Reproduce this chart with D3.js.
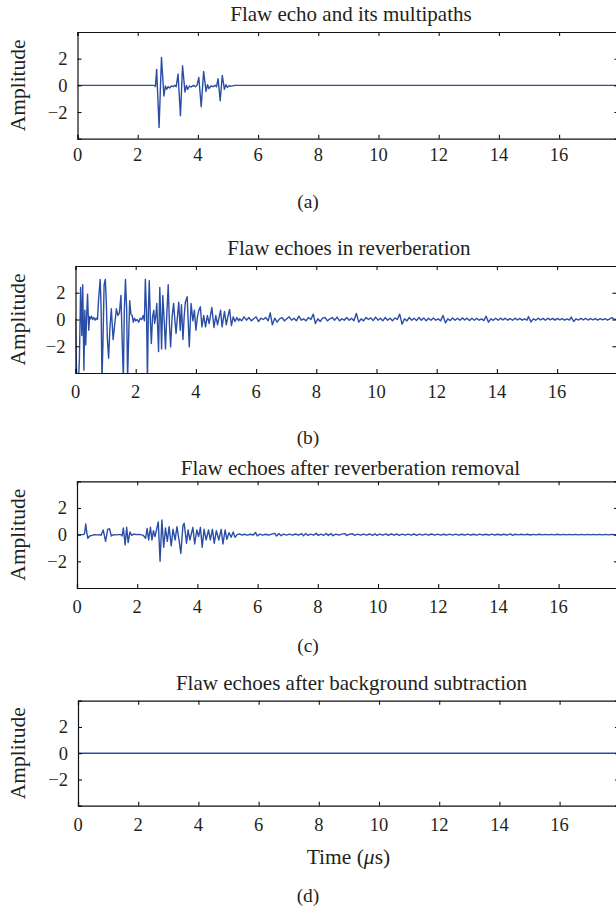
<!DOCTYPE html>
<html><head><meta charset="utf-8">
<script src="https://cdn.jsdelivr.net/npm/d3@7/dist/d3.min.js"></script>
<style>
body{margin:0;background:#fff}
text{font-family:"Liberation Serif","Times New Roman",serif;fill:#231f20}
</style>
</head><body>
<svg id="chart" width="616" height="909"></svg>
<script>
// ---------- data ----------
const titles = ["Flaw echo and its multipaths","Flaw echoes in reverberation","Flaw echoes after reverberation removal","Flaw echoes after background subtraction"];
const panelLabels = ["(a)","(b)","(c)","(d)"];
const xTicks = [0,2,4,6,8,10,12,14,16];
const yTicks = [-2,0,2];
const xLabel = "Time (";
const yLabel = "Amplitude";

// panel (a): flaw echo and its multipaths  [time µs, amplitude]
const echoA = [[0,0],[2.55,0],[2.59,-0.08],[2.63,1.2],[2.71,-3.15],[2.79,2.1],[2.87,-0.8],[2.92,-0.05],[2.96,-0.3],[3.01,-0.1],[3.06,-0.2],[3.12,-0.05],[3.18,-0.1],[3.24,0],[3.28,-0.1],[3.34,0.85],[3.42,-2.28],[3.49,1.47],[3.57,-0.5],[3.62,0],[3.66,-0.3],[3.72,-0.05],[3.78,-0.12],[3.85,0],[3.92,-0.1],[3.97,0],[4.03,0.6],[4.11,-1.6],[4.19,1.05],[4.27,-0.45],[4.32,0.05],[4.37,-0.25],[4.43,-0.05],[4.5,-0.1],[4.57,0],[4.62,-0.1],[4.67,0.5],[4.74,-1.15],[4.81,0.75],[4.88,-0.3],[4.93,0.05],[4.98,-0.15],[5.04,-0.03],[5.12,-0.06],[5.22,0],[18,0]];

// panel (b): flaw echoes in reverberation
const reverbB = [[0,0.1],[0.04,-4.5],[0.09,-5.0],[0.13,-3.0],[0.17,2.4],[0.21,-1.2],[0.24,2.6],[0.28,-3.8],[0.31,0.7],[0.34,-1.9],[0.37,0.2],[0.4,1.9],[0.44,-0.8],[0.47,0.2],[0.5,0.05],[0.53,0.25],[0.57,0],[0.61,0.15],[0.65,-0.05],[0.69,0.1],[0.73,0],[0.77,1.6],[0.82,3.0],[0.85,1.0],[0.88,-4.5],[0.91,-2.0],[0.95,2.6],[0.99,3.0],[1.02,1.5],[1.06,-1.5],[1.1,-2.9],[1.14,-0.8],[1.19,0.8],[1.25,-1.5],[1.31,-0.2],[1.36,0.8],[1.41,0.3],[1.46,0.5],[1.51,1.8],[1.55,-1.5],[1.59,-4.5],[1.62,0.5],[1.66,3.0],[1.7,0.8],[1.73,-4.5],[1.77,-1.0],[1.8,1.4],[1.84,0.4],[1.88,0.3],[1.92,-0.2],[1.96,0.1],[2.0,-0.1],[2.05,0],[2.1,-0.2],[2.15,0.1],[2.2,0],[2.25,0.3],[2.29,-0.1],[2.32,3.0],[2.36,0.5],[2.39,-4.5],[2.42,0.5],[2.45,2.9],[2.49,-0.2],[2.52,-1.8],[2.56,0.2],[2.6,0.7],[2.63,-0.3],[2.67,0.3],[2.7,1.2],[2.76,-2.4],[2.8,2.4],[2.83,0.3],[2.86,-2.2],[2.9,1.8],[2.95,-0.2],[2.99,-2.2],[3.03,0.2],[3.08,2.6],[3.12,-0.3],[3.16,-2.05],[3.21,0.2],[3.26,1.2],[3.3,0],[3.34,-1.05],[3.39,0.3],[3.43,1.3],[3.48,-0.8],[3.52,1.1],[3.57,-1.5],[3.61,0.2],[3.65,1.3],[3.71,1.7],[3.78,-2.05],[3.84,1.2],[3.9,-0.1],[3.95,0.7],[4.0,-0.8],[4.05,0.2],[4.1,0.7],[4.15,0.95],[4.2,-0.55],[4.26,0.3],[4.32,-0.55],[4.38,0.3],[4.44,-0.3],[4.53,0.9],[4.6,-0.6],[4.66,0.3],[4.72,-0.4],[4.82,0.7],[4.87,-0.55],[4.95,0.6],[5.01,-0.4],[5.06,0.2],[5.12,0.75],[5.18,-0.45],[5.24,0.2],[5.3,-0.15],[5.36,0.15],[5.42,-0.1],
[5.45,0.05],[5.52,-0.1],[5.6,0.2],[5.68,-0.05],[5.76,0.15],[5.84,-0.1],[5.92,0.05],[6.0,0.2],[6.08,-0.15],[6.16,0.1],[6.24,0],[6.32,0.15],[6.4,-0.1],[6.47,0.5],[6.54,-0.4],[6.62,0.1],[6.7,-0.2],[6.78,0.05],[6.86,0.15],[6.94,-0.1],[7.02,0.05],[7.1,0.2],[7.18,-0.05],[7.26,0.1],[7.34,-0.1],[7.42,0.25],[7.5,-0.05],[7.58,0.05],[7.66,-0.1],[7.74,0.15],[7.82,0],[7.9,0.4],[7.97,-0.3],[8.05,0.05],[8.13,-0.15],[8.21,0.1],[8.29,0.15],[8.37,-0.1],[8.45,0.05],[8.53,0.15],[8.61,-0.05],[8.69,0.18],[8.77,-0.1],[8.85,0.05],[8.93,-0.05],[9.01,0.15],[9.09,-0.05],[9.17,0.1],[9.25,-0.1],[9.33,0.45],[9.41,-0.2],[9.49,0.05],[9.57,-0.1],[9.65,0.15],[9.73,0],[9.81,0.12],[9.89,-0.08],[9.97,0.18],[10.05,-0.05],[10.13,0.1],[10.21,-0.1],[10.29,0.15],[10.37,-0.05],[10.45,0.1],[10.53,-0.1],[10.61,0.12],[10.69,0],[10.77,0.4],[10.85,-0.35],[10.93,0.05],[11.01,-0.1],[11.09,0.15],[11.17,-0.05],[11.25,0.1],[11.33,-0.08],[11.41,0.15],[11.49,-0.05],[11.57,0.12],[11.65,-0.1],[11.73,0.1],[11.81,-0.05],[11.89,0.12],[11.97,-0.05],[12.05,0.05],[12.13,-0.1],[12.21,0.3],[12.29,-0.25],[12.37,0.05],[12.45,-0.08],[12.53,0.12],[12.61,-0.05],[12.69,0.1],[12.77,-0.06],[12.85,0.12],[12.93,-0.04],[13.01,0.1],[13.09,-0.08],[13.17,0.1],[13.25,-0.05],[13.33,0.1],[13.41,-0.05],[13.49,0.05],[13.57,-0.08],[13.64,0.25],[13.72,-0.2],[13.8,0.05],[13.88,-0.06],[13.96,0.1],[14.04,-0.05],[14.12,0.1],[14.2,-0.04],[14.28,0.1],[14.36,-0.05],[14.44,0.08],[14.52,-0.06],[14.6,0.1],[14.68,-0.04],[14.76,0.08],[14.84,-0.05],[14.92,0.05],[15.0,-0.05],[15.05,0.22],[15.13,-0.18],[15.21,0.05],[15.29,-0.05],[15.37,0.1],[15.45,-0.04],[15.53,0.08],[15.61,-0.05],[15.69,0.1],[15.77,-0.03],[15.85,0.08],[15.93,-0.05],[16.01,0.08],[16.09,-0.03],[16.17,0.06],[16.25,-0.05],[16.33,0.05],[16.41,-0.04],[16.47,0.18],[16.55,-0.15],[16.63,0.05],[16.71,-0.04],[16.79,0.08],[16.87,-0.03],[16.95,0.08],[17.03,-0.04],[17.11,0.07],[17.19,-0.03],[17.27,0.07],[17.35,-0.04],[17.43,0.06],[17.51,-0.03],[17.59,0.06],[17.67,-0.04],[17.75,0.05],[17.82,0.15],[17.9,0],[18,0.05]];

// panel (c): after reverberation removal
const removedC = [[0,0],[0.2,0],[0.25,0.05],[0.29,0.8],[0.33,0.1],[0.36,-0.27],[0.42,-0.1],[0.5,-0.05],[0.58,0],[0.66,-0.02],[0.74,0],[0.8,-0.05],[0.87,0.35],[0.95,-0.5],[1.02,0.4],[1.08,0.45],[1.14,-0.1],[1.22,0],[1.3,-0.02],[1.38,0],[1.46,0],[1.5,-0.1],[1.54,0.5],[1.6,-0.77],[1.65,0.55],[1.7,-0.6],[1.76,0.2],[1.82,-0.05],[1.89,0.05],[1.96,0],[2.04,0.02],[2.12,0],[2.2,-0.05],[2.28,-0.27],[2.33,0.47],[2.38,-0.4],[2.44,0.55],[2.49,-0.4],[2.54,0.3],[2.59,-0.15],[2.64,0.35],[2.7,0.96],[2.76,-2.0],[2.82,1.1],[2.88,-0.94],[2.94,0.5],[3.0,-0.5],[3.06,0.6],[3.13,-0.84],[3.19,0.4],[3.26,-0.4],[3.32,0.6],[3.39,-0.4],[3.45,-1.4],[3.52,0.7],[3.56,0.85],[3.64,-0.64],[3.69,0.35],[3.75,-0.4],[3.85,0.55],[3.91,-0.7],[3.98,0.35],[4.04,-0.15],[4.1,0.55],[4.16,-0.94],[4.22,0.4],[4.29,-0.4],[4.37,0.35],[4.43,-0.4],[4.5,0.4],[4.56,-0.64],[4.63,0.3],[4.71,-0.4],[4.79,0.4],[4.85,-0.7],[4.92,0.35],[4.98,-0.35],[5.05,0.15],[5.12,-0.2],[5.19,0.2],[5.25,-0.2],[5.32,0],[5.4,0.05],[5.48,-0.03],
[5.56,0.03],[5.66,-0.04],[5.76,0.03],[5.86,-0.03],[5.93,0.17],[5.99,-0.1],[6.07,0.04],[6.17,-0.04],[6.27,0.03],[6.37,-0.03],[6.47,0.04],[6.57,0.1],[6.63,-0.1],[6.71,0.08],[6.78,-0.08],[6.86,0.04],[6.96,-0.03],[7.06,0.04],[7.16,-0.04],[7.26,0.05],[7.36,-0.04],[7.46,0.08],[7.52,-0.08],[7.6,0.08],[7.67,-0.06],[7.76,0.04],[7.86,-0.04],[7.95,0.1],[8.01,-0.06],[8.1,0.04],[8.2,-0.05],[8.28,0.09],[8.35,-0.06],[8.44,0.08],[8.5,-0.08],[8.6,0.04],[8.7,-0.03],[8.8,0.04],[8.9,0.08],[8.96,-0.07],[9.06,0.04],[9.16,0.07],[9.22,-0.06],[9.32,0.04],[9.42,-0.04],[9.52,0.04],[9.62,-0.03],[9.72,0.05],[9.82,-0.05],[9.9,0.07],[9.96,-0.06],[10.06,0.04],[10.16,-0.04],[10.26,0.06],[10.34,-0.06],[10.44,0.05],[10.54,-0.04],[10.62,0.06],[10.7,-0.05],[10.8,0.04],[10.9,-0.03],[11.0,0.04],[11.1,-0.04],[11.2,0.05],[11.28,-0.05],[11.38,0.04],[11.48,-0.03],[11.58,0.04],[11.68,-0.04],[11.78,0.05],[11.88,-0.03],[11.98,0.04],[12.08,-0.04],[12.18,0.03],[12.28,-0.03],[12.38,0.04],[12.48,-0.03],[12.58,0.04],[12.68,-0.04],[12.78,0.03],[12.88,-0.03],[12.98,0.04],[13.08,-0.03],[13.18,0.03],[13.28,-0.04],[13.38,0.04],[13.48,-0.03],[13.58,0.03],[13.68,-0.03],[13.78,0.04],[13.88,-0.03],[13.98,0.03],[14.08,-0.03],[14.18,0.03],[14.28,-0.03],[14.4,0.06],[14.46,-0.05],[14.56,0.03],[14.66,-0.02],[14.76,0.03],[14.86,-0.02],[14.96,0.03],[15.06,-0.03],[15.16,0.02],[15.26,-0.02],[15.36,0.03],[15.46,-0.02],[15.56,0.02],[15.66,-0.02],[15.76,0.02],[15.86,-0.02],[15.96,0.03],[16.06,-0.02],[16.16,0.02],[16.26,-0.02],[16.36,0.02],[16.46,-0.02],[16.56,0.02],[16.66,-0.02],[16.76,0.02],[16.86,-0.02],[16.96,0.02],[17.06,-0.02],[17.16,0.02],[17.26,-0.02],[17.36,0.02],[17.46,-0.02],[17.56,0.02],[17.66,-0.02],[17.76,0.02],[17.86,-0.01],[18,0]];

// panel (d): after background subtraction
const subtractedD = [[0,0],[18,0]];

const xDomain = [0, 17.97];
const yDomain = [-4, 4];

// ---------- layout ----------
const series = [echoA, reverbB, removedC, subtractedD];
const layout = [
  {top:32,    bottom:138.7, left:77.5, titleY:13.5, tickY:155,   labelY:201},
  {top:266,   bottom:373,   left:75.5, titleY:248,  tickY:391.5, labelY:437},
  {top:481.3, bottom:588,   left:77,   titleY:468,  tickY:606.5, labelY:645},
  {top:700.7, bottom:805.7, left:78,   titleY:683,  tickY:825,   labelY:895}
];
const pxPerUnit = 30.1;
const lineColor = "#2a4ea6";
const svg = d3.select("#chart");

layout.forEach((L, i) => {
  const right = L.left + xDomain[1] * pxPerUnit;
  const x = d3.scaleLinear().domain(xDomain).range([L.left, right]);
  const y = d3.scaleLinear().domain(yDomain).range([L.bottom, L.top]);
  const g = svg.append("g");

  g.append("clipPath").attr("id", "clip" + i)
    .append("rect").attr("x", L.left).attr("y", L.top)
    .attr("width", right - L.left).attr("height", L.bottom - L.top);

  // signal
  const line = d3.line().x(d => x(d[0])).y(d => y(d[1]));
  g.append("path").datum(series[i])
    .attr("clip-path", `url(#clip${i})`)
    .attr("fill", "none").attr("stroke", lineColor)
    .attr("stroke-width", 1.4).attr("stroke-linejoin", "round")
    .attr("d", line);

  // axes (MATLAB box style, inward ticks)
  const bottomAxis = d3.axisBottom(x).tickValues(xTicks).tickSize(-4).tickFormat("");
  const topAxis = d3.axisTop(x).tickValues(xTicks).tickSize(-4).tickFormat("");
  const leftAxis = d3.axisLeft(y).tickValues(yTicks).tickSize(-4).tickFormat("");
  const rightAxis = d3.axisRight(y).tickValues(yTicks).tickSize(-4).tickFormat("");
  [[bottomAxis, `translate(0,${L.bottom})`],[topAxis, `translate(0,${L.top})`],
   [leftAxis, `translate(${L.left},0)`],[rightAxis, `translate(${right},0)`]].forEach(([ax, tr]) => {
    const a = g.append("g").attr("transform", tr).call(ax);
    a.select(".domain").attr("stroke", "#111").attr("stroke-width", 1.2);
    a.selectAll(".tick line").attr("stroke", "#111").attr("stroke-width", 1.1);
  });

  // tick labels
  g.selectAll(null).data(xTicks).enter().append("text")
    .attr("x", d => x(d)).attr("y", L.tickY).attr("dy", "0.35em")
    .attr("text-anchor", "middle").attr("font-size", 18.5).text(d => d3.format("")(d));
  g.selectAll(null).data(yTicks).enter().append("text")
    .attr("x", L.left - 10).attr("y", d => y(d)).attr("dy", "0.35em")
    .attr("text-anchor", "end").attr("font-size", 18.5).text(d => d3.format("")(d));

  // title
  g.append("text").attr("x", (L.left + right) / 2 + 3).attr("y", L.titleY).attr("dy", "0.35em")
    .attr("text-anchor", "middle").attr("font-size", 21).text(titles[i]);

  // y label
  g.append("text").attr("transform", `translate(17,${(L.top + L.bottom) / 2}) rotate(-90)`)
    .attr("dy", "0.35em").attr("text-anchor", "middle").attr("font-size", 21.5).text(yLabel);

  // x label on last panel
  if (i === 3) {
    const t = g.append("text").attr("x", (L.left + right) / 2).attr("y", 856).attr("dy", "0.35em")
      .attr("text-anchor", "middle").attr("font-size", 21.5);
    t.append("tspan").text(xLabel);
    t.append("tspan").attr("font-style", "italic").text("\u03bc");
    t.append("tspan").text("s)");
  }

  // panel label
  svg.append("text").attr("x", 308).attr("y", L.labelY).attr("dy", "0.35em")
    .attr("text-anchor", "middle").attr("font-size", 19.5).text(panelLabels[i]);
});
</script>
</body></html>
